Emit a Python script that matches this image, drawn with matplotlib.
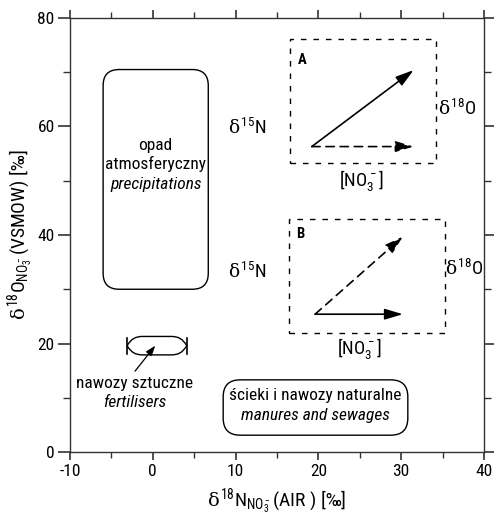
import matplotlib
matplotlib.use("Agg")
import matplotlib.pyplot as plt
from matplotlib.patches import FancyBboxPatch, PathPatch, Rectangle
from matplotlib.path import Path

FONT = 'Roboto Condensed'
plt.rcParams['font.family'] = [FONT, 'Liberation Sans', 'DejaVu Sans']
plt.rcParams['mathtext.fontset'] = 'custom'
plt.rcParams['mathtext.rm'] = FONT
plt.rcParams['mathtext.it'] = 'DejaVu Serif'
plt.rcParams['mathtext.bf'] = FONT + ':bold'

# ---- data ----
x_ticks = [-10, 0, 10, 20, 30, 40]
y_ticks = [0, 20, 40, 60, 80]
x_minor = [-5, 5, 15, 25, 35]
y_minor = [10, 30, 50, 70]

precip_x = [-6.0, 6.7]
precip_y = [30.0, 70.5]
fert_x = [-3.1, 4.1]
fert_y = [17.9, 21.3]
sew_x = [8.5, 30.8]
sew_y = [3.1, 13.3]

insetA_x = [16.6, 34.2]
insetA_y = [53.3, 76.1]
insetB_x = [16.4, 35.3]
insetB_y = [21.9, 42.9]

arrowA_start = (19.2, 56.3)
arrowA_solid_end = (31.5, 70.4)
arrowA_dashed_end = (31.5, 56.3)
arrowB_start = (19.6, 25.4)
arrowB_solid_end = (30.2, 25.4)
arrowB_dashed_end = (30.2, 39.7)

W, H = 494, 516
fig = plt.figure(figsize=(W / 100, H / 100), dpi=100)
L, R, B, T = 70 / W, 484 / W, 1 - 452 / H, 1 - 18 / H
ax = fig.add_axes([L, B, R - L, T - B])
ax.set_xlim(-10, 40)
ax.set_ylim(0, 80)

for s in ax.spines.values():
    s.set_linewidth(1.0)
    s.set_color('#333333')

ax.set_xticks(x_ticks)
ax.set_yticks(y_ticks)
ax.set_xticks(x_minor, minor=True)
ax.set_yticks(y_minor, minor=True)
ax.set_xticklabels([str(v) for v in x_ticks])
ax.set_yticklabels([str(v) for v in y_ticks])
ax.tick_params(axis='both', which='both', direction='out', colors='#333333', labelcolor='black', labelsize=12.5)
ax.tick_params(axis='x', which='both', top=True, bottom=True)
ax.tick_params(axis='y', which='both', left=True, right=True)
ax.tick_params(axis='x', which='major', length=6, width=1.2, pad=3)
ax.tick_params(axis='x', which='minor', length=4, width=1.0)
ax.tick_params(axis='y', which='major', length=9, width=1.2, pad=2)
ax.tick_params(axis='y', which='minor', length=5, width=1.0)

ax.set_xlabel(r'$\delta^{18}$N$_{\mathrm{NO}_3^-}$(AIR ) [‰]', fontsize=14, labelpad=5)
ax.set_ylabel(r'$\delta^{18}$O$_{\mathrm{NO}_3^-}$(VSMOW) [‰]', fontsize=14, labelpad=1)

# aspect for rounded corners (px per unit)
px_x = (R - L) * W / 50.0
px_y = (T - B) * H / 80.0
asp = px_x / px_y

def rbox(xr, yr, rad_px):
    r = rad_px / px_x
    p = FancyBboxPatch((xr[0], yr[0]), xr[1] - xr[0], yr[1] - yr[0],
                       boxstyle=f"round,pad=0,rounding_size={r}",
                       mutation_aspect=asp, fc='none', ec='black', lw=1.0)
    ax.add_patch(p)

rbox(precip_x, precip_y, 16)
rbox(sew_x, sew_y, 17)

TS = 12.5
cx = (precip_x[0] + precip_x[1]) / 2
ax.text(cx, 56.5, 'opad', ha='center', va='center', fontsize=TS)
ax.text(cx, 53.0, 'atmosferyczny', ha='center', va='center', fontsize=TS)
ax.text(cx, 49.4, 'precipitations', ha='center', va='center', fontsize=TS, style='italic')

sx = (sew_x[0] + sew_x[1]) / 2
ax.text(sx, 10.4, 'ścieki i nawozy naturalne', ha='center', va='center', fontsize=TS)
ax.text(sx, 6.8, 'manures and sewages', ha='center', va='center', fontsize=TS, style='italic')

# fertiliser lens shape
x0, x1 = fert_x
y0, y1 = fert_y
yc = (y0 + y1) / 2
d = 1.9
verts = [(x0, yc),
         (x0 + 0.5, yc + 0.75 * (y1 - yc)), (x0 + 1.0, y1), (x0 + d, y1),
         (x1 - d, y1),
         (x1 - 1.0, y1), (x1 - 0.5, yc + 0.75 * (y1 - yc)), (x1, yc),
         (x1 - 0.5, yc - 0.75 * (yc - y0)), (x1 - 1.0, y0), (x1 - d, y0),
         (x0 + d, y0),
         (x0 + 1.0, y0), (x0 + 0.5, yc - 0.75 * (yc - y0)), (x0, yc)]
codes = [Path.MOVETO, Path.CURVE4, Path.CURVE4, Path.CURVE4, Path.LINETO,
         Path.CURVE4, Path.CURVE4, Path.CURVE4, Path.CURVE4, Path.CURVE4, Path.CURVE4,
         Path.LINETO, Path.CURVE4, Path.CURVE4, Path.CURVE4]
ax.add_patch(PathPatch(Path(verts, codes), fc='none', ec='black', lw=1.0))
for xe in fert_x:
    ax.plot([xe, xe], [yc - 1.5, yc + 1.5], color='black', lw=1.2)
ax.annotate('', xy=(0.3, 19.6), xytext=(-2.15, 14.9),
            arrowprops=dict(arrowstyle='-|>,head_length=1.0,head_width=0.35', color='black',
                            lw=0.9, mutation_scale=6, shrinkA=0, shrinkB=0))
ax.text(-2.2, 12.6, 'nawozy sztuczne', ha='center', va='center', fontsize=TS)
ax.text(-2.2, 9.2, 'fertilisers', ha='center', va='center', fontsize=TS, style='italic')

# insets
def inset(xr, yr):
    ax.add_patch(Rectangle((xr[0], yr[0]), xr[1] - xr[0], yr[1] - yr[0], fill=False,
                           ec='black', lw=1.0, linestyle=(0, (4, 5))))

def arrow(p0, p1, dashed):
    ls = (0, (5, 3.5)) if dashed else '-'
    ax.annotate('', xy=p1, xytext=p0,
                arrowprops=dict(arrowstyle='-|>,head_length=1.1,head_width=0.33', color='black',
                                lw=1.2, linestyle=ls, mutation_scale=10, shrinkA=0, shrinkB=0))

DS = 13.5
inset(insetA_x, insetA_y)
arrow(arrowA_start, arrowA_solid_end, False)
arrow(arrowA_start, arrowA_dashed_end, True)
ax.text(18.0, 72.3, 'A', ha='center', va='center', fontsize=10.5, fontweight='bold')
ax.text(11.4, 59.8, r'$\delta^{15}$N', ha='center', va='center', fontsize=DS)
ax.text(36.8, 63.3, r'$\delta^{18}$O', ha='center', va='center', fontsize=DS)
ax.text(25.2, 50.0, r'[NO$_3^-$]', ha='center', va='center', fontsize=DS)

inset(insetB_x, insetB_y)
arrow(arrowB_start, arrowB_solid_end, False)
arrow(arrowB_start, arrowB_dashed_end, True)
ax.text(17.8, 40.2, 'B', ha='center', va='center', fontsize=10.5, fontweight='bold')
ax.text(11.4, 33.1, r'$\delta^{15}$N', ha='center', va='center', fontsize=DS)
ax.text(37.6, 33.8, r'$\delta^{18}$O', ha='center', va='center', fontsize=DS, clip_on=False)
ax.text(25.0, 19.0, r'[NO$_3^-$]', ha='center', va='center', fontsize=DS)

fig.savefig('out.png', dpi=100)
